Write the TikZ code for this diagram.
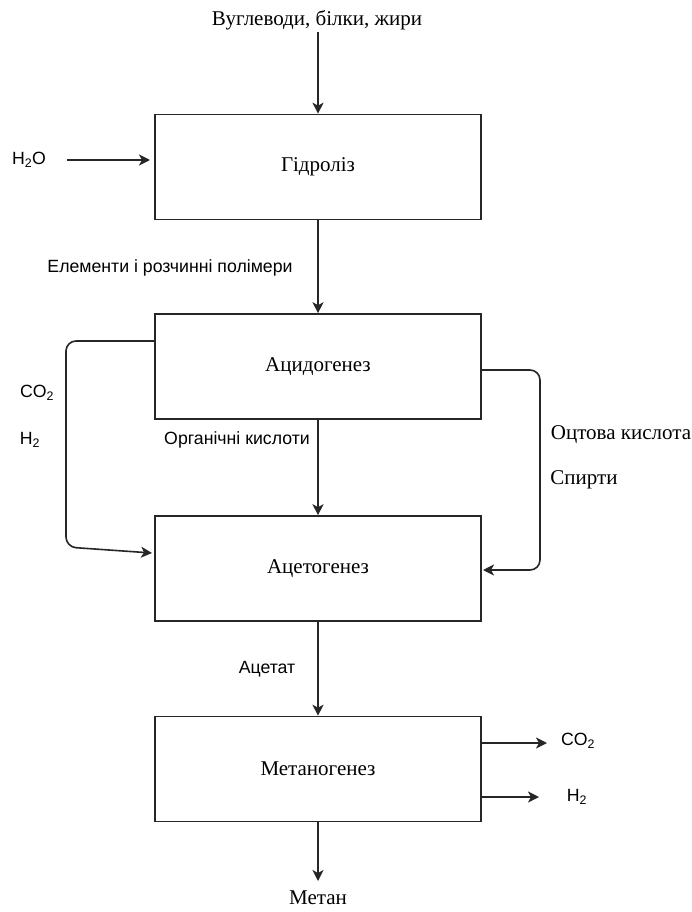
\documentclass[tikz,border=0pt]{standalone}
\usepackage{fontspec}
\setmainfont{Liberation Serif}
\newfontfamily\sansf{Liberation Sans}
\usetikzlibrary{arrows.meta,calc}
\tikzset{
  stage/.style={draw=black!85, line width=1.6pt, minimum width=326pt, minimum height=105pt, inner sep=0pt, font=\fontsize{21}{23}\selectfont},
  serlabel/.style={inner sep=0pt, font=\fontsize{21}{23}\selectfont},
  sanlabel/.style={inner sep=0pt, font=\sansf\fontsize{17.7}{20}\selectfont},
  flow/.style={draw=black!85, line width=1.6pt, -{Stealth[length=11pt,width=11pt,inset=3pt]}},
  loop/.style={flow, rounded corners=10pt}
}
\begin{document}
\begin{tikzpicture}[x=1pt,y=-1pt]
\useasboundingbox (0,0) rectangle (691,912);
\fill[white] (0,0) rectangle (691,912);

\node[stage] (b1) at (318,167) {Гідроліз};
\node[stage] (b2) at (318,366.5) {Ацидогенез};
\node[stage] (b3) at (318,568.5) {Ацетогенез};
\node[stage] (b4) at (318,769) {Метаногенез};

\node[serlabel] (top) at (317,20) {Вуглеводи, білки, жири};
\node[sanlabel] (h2o) at (29,160) {H\textsubscript{2}O};
\node[sanlabel] (elem) at (170,268) {Елементи і розчинні полімери};
\node[sanlabel] (co2l) at (37,393) {CO\textsubscript{2}};
\node[sanlabel] (h2l) at (30,440) {H\textsubscript{2}};
\node[sanlabel] (org) at (237,440) {Органічні кислоти};
\node[serlabel] (oct) at (621,435) {Оцтова кислота};
\node[serlabel] (spyrt) at (584,480) {Спирти};
\node[sanlabel] (acet) at (267,669) {Ацетат};
\node[sanlabel] (co2r) at (578,741) {CO\textsubscript{2}};
\node[sanlabel] (h2r) at (577,797) {H\textsubscript{2}};
\node[serlabel] (metan) at (318,898) {Метан};

\coordinate (topstart) at (318,32);
\coordinate (h2ostart) at (67,160);
\coordinate (h2oend) at (150,160);
\coordinate (lstart) at (155,341);
\coordinate (lc1) at (66,341);
\coordinate (lc2) at (66,547);
\coordinate (lend) at (152,553);
\coordinate (rstart) at (481,370);
\coordinate (rc1) at (540,370);
\coordinate (rc2) at (540,570);
\coordinate (rend) at (483,570);
\coordinate (co2s) at (481,743);
\coordinate (co2e) at (547,743);
\coordinate (h2s) at (481,797);
\coordinate (h2e) at (539,797);
\coordinate (metane) at (318,881);

\draw[flow] (topstart) -- (b1.north);
\draw[flow] (h2ostart) -- (h2oend);
\draw[flow] (b1.south) -- (b2.north);
\draw[flow] (b2.south) -- (b3.north);
\draw[flow] (b3.south) -- (b4.north);
\draw[flow] (b4.south) -- (metane);
\draw[flow] (co2s) -- (co2e);
\draw[flow] (h2s) -- (h2e);
\draw[loop] (lstart) -- (lc1) -- (lc2) -- (lend);
\draw[loop] (rstart) -- (rc1) -- (rc2) -- (rend);
\end{tikzpicture}
\end{document}
